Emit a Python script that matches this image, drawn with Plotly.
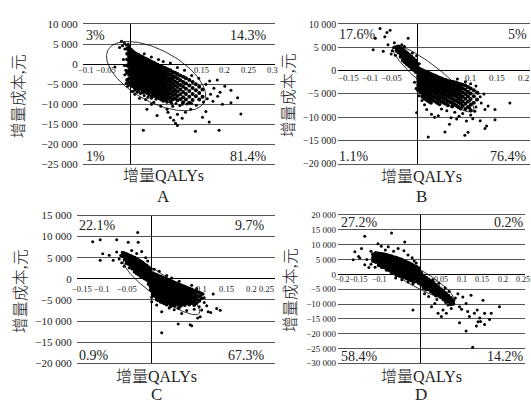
import numpy as np
import plotly.graph_objects as go

W, H = 531, 400
SERIF = "Liberation Serif, Noto Sans CJK SC, serif"

# ------------------------------------------------------------------ data
# Each *_core entry: (incremental QALY, [incremental costs of the points in that column])
A_core = [
    (-0.006, [3900, 2600, 1200, -300, -2100, -3900]),
    (-0.002, [4300, 3300, 2500, 1900, 1000, 300, -600, -1500, -2600, -3600, -4700]),
    (0.002, [3600, 2900, 2200, 1600, 900, 200, -500, -1200, -1900, -2800, -3600, -4500, -5300]),
    (0.006, [3200, 2500, 1900, 1300, 600, -100, -800, -1500, -2300, -3000, -3800, -4700, -5500]),
    (0.010, [2800, 2200, 1500, 900, 300, -400, -1100, -1800, -2500, -3300, -4100, -5000, -5900]),
    (0.014, [2500, 1900, 1300, 700, 0, -700, -1400, -2100, -2900, -3600, -4400, -5300, -6100]),
    (0.018, [2300, 1600, 1000, 400, -300, -1000, -1700, -2400, -3200, -3900, -4800, -5600, -6400]),
    (0.022, [2000, 1400, 800, 100, -600, -1300, -2000, -2700, -3500, -4300, -5100, -6000]),
    (0.026, [1800, 1100, 500, -200, -900, -1600, -2300, -3000, -3800, -4600, -5400, -6300, -7000]),
    (0.030, [1500, 900, 200, -500, -1200, -1900, -2600, -3400, -4100, -4900, -5700, -6600]),
    (0.034, [1300, 600, 0, -700, -1400, -2100, -2900, -3600, -4400, -5200, -6100, -7000]),
    (0.038, [1100, 400, -300, -1000, -1700, -2400, -3100, -3900, -4700, -5500, -6400, -7300]),
    (0.042, [800, 100, -600, -1300, -2000, -2700, -3500, -4300, -5100, -5900, -6800]),
    (0.046, [600, -100, -800, -1500, -2200, -3000, -3800, -4600, -5400, -6300, -7200, -8000]),
    (0.050, [400, -400, -1100, -1800, -2500, -3300, -4100, -4900, -5700, -6600, -7500]),
    (0.054, [100, -600, -1300, -2100, -2800, -3600, -4400, -5200, -6100, -7000, -7800]),
    (0.058, [-100, -900, -1600, -2400, -3100, -3900, -4700, -5600, -6400, -7300, -8200]),
    (0.062, [-400, -1100, -1900, -2600, -3400, -4200, -5000, -5900, -6800, -7700]),
    (0.066, [-600, -1400, -2100, -2900, -3700, -4500, -5400, -6200, -7100, -8000, -8800]),
    (0.070, [-800, -1700, -2400, -3200, -4000, -4900, -5700, -6600, -7500, -8400]),
    (0.075, [-1000, -1900, -2800, -3600, -4500, -5400, -6300, -7200, -8100, -9000]),
    (0.080, [-1300, -2200, -3100, -4000, -4900, -5900, -6800, -7700, -8600]),
    (0.085, [-1500, -2500, -3500, -4400, -5400, -6300, -7300, -8300, -9300]),
    (0.090, [-1900, -2900, -3800, -4800, -5800, -6800, -7800, -8800]),
    (0.095, [-2100, -3200, -4300, -5300, -6400, -7400, -8500]),
    (0.100, [-2400, -3500, -4600, -5700, -6800, -7900, -9000]),
    (0.106, [-2800, -4000, -5200, -6300, -7500, -8700]),
    (0.112, [-3100, -4400, -5600, -6900, -8200, -9500]),
    (0.118, [-3500, -4800, -6100, -7400, -8800]),
    (0.125, [-3900, -5300, -6700, -8100, -9600]),
    (0.132, [-4400, -5900, -7400, -8900]),
    (0.139, [-5000, -6500, -8000]),
    (0.146, [-5600, -7200, -8800]),
    (0.153, [-6300, -8100]),
]
A_scatter = [
    (-0.018, 5780), (-0.012, 5300), (-0.016, 4600), (-0.008, 4800), (-0.011, 3800), (-0.022, 4200),
    (-0.004, 5000), (-0.032, -680), (-0.012, -300), (-0.009, -1500), (-0.011, -2600), (-0.008, -4730),
    (-0.005, -5500), (-0.014, 1200), (0.0355, -11200), (0.057, -12800), (0.092, -14000), (0.096, -14700),
    (0.100, -15300), (0.110, -13500), (0.028, -16450), (0.138, -16700), (0.153, -13200), (0.167, -14400),
    (0.188, -16450), (0.213, -6500), (0.195, -10000), (0.213, -9600), (0.227, -8370), (0.234, -12400),
    (0.184, -3930), (0.177, -6000), (0.170, -7500), (0.163, -8600), (0.155, -9400), (0.128, -11200),
    (0.117, -12000), (0.078, -11200), (0.065, -10500), (0.045, -10000), (0.020, -8500), (0.010, -7500),
    (0.005, -6800), (0.033, -8800), (0.050, -9500), (0.090, -10500), (0.105, -10300), (0.140, -10200),
    (0.160, -5000), (0.168, -4200), (0.175, -9200), (0.185, -8000), (0.190, -7000), (0.200, -5500),
    (0.160, -11800), (0.100, -12500), (0.085, -13300), (0.080, -12000), (0.145, -3500), (0.130, -2800),
    (0.115, -1500), (0.100, -800), (0.085, 300), (0.070, 700), (0.060, 1200), (0.045, 1800), (0.030, 2600),
    (0.010, -6500), (0.015, -7000), (0.022, -7300), (0.030, -7800), (0.038, -8200), (0.045, -8500),
    (0.055, -8700), (0.062, -8600), (0.070, -9200), (0.078, -9500), (0.088, -9700), (0.097, -9800),
    (0.110, -10000), (0.120, -9900), (0.130, -9800), (0.040, -7700), (0.028, -7100), (0.018, -6800),
    (0.052, -8100), (0.068, -8500),
]

B_core = [
    (-0.040, [5000, 4300]),
    (-0.036, [5200, 4600, 3900]),
    (-0.032, [4800, 4200, 3600, 3000]),
    (-0.028, [4600, 4000, 3400, 2800, 2200]),
    (-0.024, [4200, 3600, 3000, 2400, 1800]),
    (-0.020, [3800, 3200, 2600, 2000, 1400]),
    (-0.016, [3400, 2800, 2200, 1600, 1000]),
    (-0.012, [3000, 2400, 1800, 1200, 600]),
    (-0.008, [2600, 2000, 1400, 800, 200]),
    (-0.004, [2200, 1600, 1000, 400, -200]),
    (-0.001, [1500, 900, 300, -300]),
    (0.001, [600, 0, -600, -1200, -1800, -2400, -3000, -3600, -4200]),
    (0.005, [300, -300, -900, -1500, -2100, -2700, -3300, -3900, -4600]),
    (0.009, [100, -500, -1100, -1700, -2300, -2900, -3500, -4200, -4900, -5600]),
    (0.013, [-100, -700, -1300, -1900, -2500, -3100, -3800, -4500, -5200, -6000]),
    (0.017, [-300, -900, -1500, -2100, -2700, -3400, -4100, -4800, -5500, -6300]),
    (0.021, [-500, -1100, -1700, -2300, -2900, -3600, -4300, -5000, -5800, -6600]),
    (0.025, [-700, -1300, -1900, -2500, -3100, -3800, -4500, -5300, -6100, -6900]),
    (0.029, [-900, -1500, -2100, -2700, -3300, -4000, -4700, -5500, -6300]),
    (0.033, [-1100, -1700, -2300, -2900, -3500, -4200, -4900, -5700, -6600]),
    (0.037, [-1300, -1900, -2500, -3100, -3700, -4400, -5200, -6000, -6900]),
    (0.041, [-1500, -2100, -2700, -3300, -4000, -4700, -5500, -6300, -7200]),
    (0.045, [-1700, -2300, -2900, -3500, -4200, -4900, -5700, -6600]),
    (0.049, [-1900, -2500, -3100, -3700, -4400, -5200, -6000, -6900]),
    (0.053, [-2000, -2600, -3200, -3900, -4600, -5400, -6200, -7100]),
    (0.057, [-2200, -2800, -3400, -4100, -4800, -5600, -6500, -7400]),
    (0.061, [-2300, -2900, -3600, -4300, -5000, -5800, -6700]),
    (0.065, [-2400, -3000, -3700, -4400, -5200, -6000, -6900, -7700]),
    (0.069, [-2500, -3200, -3900, -4600, -5400, -6300, -7200]),
    (0.073, [-2600, -3300, -4000, -4800, -5600, -6500, -7500]),
    (0.077, [-2800, -3500, -4200, -5000, -5900, -6800, -7800]),
    (0.081, [-2900, -3600, -4400, -5300, -6200, -7100, -8100]),
    (0.085, [-3000, -3800, -4700, -5600, -6600, -7600]),
    (0.090, [-3200, -4100, -5000, -6000, -7100, -8200]),
    (0.095, [-3500, -4500, -5500, -6600, -7800]),
    (0.100, [-3800, -4900, -6100, -7300, -8500]),
    (0.106, [-4200, -5500, -6900]),
    (0.112, [-4700, -6200]),
]
B_scatter = [
    (-0.071, 9040), (-0.062, 7300), (-0.058, 8200), (-0.052, 8690), (-0.080, 6960), (-0.084, 4520),
    (-0.065, 4170), (-0.018, 6960), (-0.056, 5560), (-0.045, 5000), (-0.048, 4300), (-0.050, 3600),
    (-0.042, 3300), (-0.030, 5600), (-0.025, 5200), (-0.044, 6000), (-0.002, -9020), (0.020, -14230),
    (0.0515, -13190), (0.089, -13875), (0.095, -13200), (0.127, -12400), (0.130, -11900), (0.127, -8330),
    (0.146, -8330), (0.174, -6940), (0.146, -10540), (0.118, -10750), (0.104, -10300), (0.0736, -10400),
    (0.063, -10100), (0.039, -9700), (0.026, -9370), (0.032, -10000), (0.017, -8330), (0.114, -4850),
    (0.120, -6940), (0.110, -7800), (0.108, -8700), (0.100, -9500), (0.085, -9200), (0.070, -8900),
    (0.055, -8600), (0.045, -8200), (0.013, -7300), (0.008, -6400), (0.003, -5400), (-0.003, -3800),
    (-0.006, -2500), (0.100, -2800), (0.090, -2400), (0.075, -1800), (0.110, -3300), (0.118, -5600),
    (0.125, -5000), (0.133, -7600), (0.003, 1500), (-0.002, 3200), (-0.010, 3800), (0.060, -11500),
    (0.078, -9800), (0.092, -10800), (0.098, -8000),
]

C_core = [
    (-0.058, [6200, 5400]),
    (-0.054, [6000, 5300, 4600]),
    (-0.050, [5800, 5100, 4400, 3700]),
    (-0.046, [5600, 4900, 4200, 3500]),
    (-0.042, [5400, 4700, 4000, 3300, 2700]),
    (-0.038, [5200, 4500, 3800, 3100, 2400]),
    (-0.034, [5000, 4300, 3600, 2900, 2200]),
    (-0.030, [4700, 4000, 3300, 2600, 1900, 1300]),
    (-0.026, [4400, 3700, 3000, 2300, 1600, 1000]),
    (-0.022, [4100, 3400, 2700, 2000, 1300, 700]),
    (-0.018, [3800, 3100, 2400, 1700, 1000, 400]),
    (-0.014, [3400, 2700, 2000, 1300, 700, 100]),
    (-0.010, [3100, 2400, 1700, 1000, 400, -200]),
    (-0.006, [2700, 2000, 1300, 700, 100, -500, -1200]),
    (-0.002, [2200, 1500, 900, 300, -300, -1000, -1800, -2600]),
    (0.002, [1300, 700, 100, -500, -1100, -1700, -2400, -3100, -3800]),
    (0.006, [1100, 500, -100, -700, -1300, -1900, -2600, -3300, -4000]),
    (0.010, [900, 300, -300, -900, -1500, -2100, -2800, -3500, -4200, -4900]),
    (0.014, [700, 100, -500, -1100, -1700, -2300, -3000, -3700, -4400, -5100]),
    (0.018, [500, -100, -700, -1300, -1900, -2500, -3200, -3900, -4600, -5400]),
    (0.022, [300, -300, -900, -1500, -2100, -2700, -3400, -4100, -4800, -5600]),
    (0.026, [100, -500, -1100, -1700, -2300, -2900, -3600, -4300, -5000, -5800]),
    (0.030, [-100, -700, -1300, -1900, -2500, -3100, -3800, -4500, -5300, -6100]),
    (0.034, [-300, -900, -1500, -2100, -2700, -3400, -4100, -4800, -5600]),
    (0.038, [-500, -1100, -1700, -2300, -2900, -3600, -4300, -5000, -5800, -6500]),
    (0.042, [-700, -1300, -1900, -2500, -3100, -3800, -4500, -5300, -6100]),
    (0.046, [-900, -1500, -2100, -2700, -3400, -4100, -4800, -5600, -6400]),
    (0.050, [-1100, -1700, -2300, -2900, -3600, -4300, -5100, -5900]),
    (0.054, [-1300, -1900, -2500, -3100, -3800, -4500, -5300, -6100, -6900]),
    (0.058, [-1500, -2100, -2700, -3400, -4100, -4800, -5600, -6400]),
    (0.062, [-1700, -2300, -2900, -3600, -4300, -5100, -5900]),
    (0.066, [-1900, -2500, -3200, -3900, -4600, -5400, -6200]),
    (0.070, [-2100, -2700, -3400, -4100, -4900, -5700]),
    (0.075, [-2300, -3000, -3700, -4500, -5300, -6100]),
    (0.080, [-2500, -3300, -4100, -4900, -5700]),
    (0.085, [-2800, -3600, -4400, -5300, -6200]),
    (0.090, [-3000, -3900, -4800, -5700]),
    (0.095, [-3300, -4200, -5200]),
    (0.100, [-3600, -4600]),
]
C_scatter = [
    (-0.118, 8800), (-0.103, 9260), (-0.070, 9260), (-0.028, 10960), (-0.047, 8660), (-0.027, 8660),
    (-0.098, 5970), (-0.103, 4430), (-0.077, 4430), (-0.070, 6360), (-0.062, 5500), (-0.065, 4700),
    (-0.085, 5600), (-0.060, 3800), (-0.055, 3000), (-0.045, 2600), (-0.035, 1600), (-0.020, 6500),
    (-0.040, 6700), (-0.030, 6000), (-0.012, 5000), (-0.008, 4200), (0.103, -3600), (0.123, -3600),
    (0.137, -7420), (0.113, -7800), (0.097, -8960), (0.092, -9300), (0.060, -8200), (0.053, -10730),
    (0.077, -10870), (0.080, -11100), (0.020, -12800), (0.020, -7810), (0.000, -4370), (0.000, -5400),
    (0.010, -6200), (0.035, -6900), (0.045, -7300), (0.070, -7500), (0.085, -7200), (0.105, -5600),
    (0.110, -6400), (0.118, -8000), (0.130, -7000), (0.095, -6600), (0.100, -7400), (0.065, -2200),
    (0.080, -1500), (0.090, -2300), (0.105, -4500), (0.055, -600), (0.040, 200), (0.030, 800),
    (0.015, 1800), (0.005, 2300),
]

D_core = [
    (-0.115, [6800, 5600, 4500]),
    (-0.108, [7200, 6200, 5200, 4200]),
    (-0.101, [7000, 6000, 5000, 4000, 3100]),
    (-0.094, [6900, 5900, 5000, 4100, 3200, 2500]),
    (-0.088, [6700, 5800, 4900, 4000, 3200, 2400]),
    (-0.082, [6500, 5700, 4800, 4000, 3200, 2400, 1600]),
    (-0.076, [6300, 5500, 4700, 3900, 3100, 2300, 1500]),
    (-0.070, [6100, 5300, 4500, 3800, 3000, 2200, 1400, 700]),
    (-0.064, [5800, 5100, 4300, 3600, 2800, 2100, 1300, 600]),
    (-0.058, [5600, 4900, 4100, 3400, 2700, 1900, 1200, 400, -300]),
    (-0.052, [5300, 4600, 3900, 3200, 2500, 1800, 1000, 300, -400]),
    (-0.046, [5000, 4300, 3600, 2900, 2200, 1500, 800, 100, -600]),
    (-0.040, [4600, 3900, 3200, 2500, 1800, 1100, 400, -300, -1000]),
    (-0.034, [4200, 3500, 2900, 2200, 1500, 800, 100, -600, -1300]),
    (-0.028, [3800, 3100, 2500, 1800, 1100, 400, -300, -1000, -1700]),
    (-0.022, [3400, 2700, 2100, 1400, 700, 0, -700, -1400, -2100]),
    (-0.016, [3000, 2300, 1600, 1000, 300, -400, -1100, -1800, -2500]),
    (-0.010, [2600, 1900, 1200, 500, -200, -900, -1600, -2300]),
    (-0.004, [2100, 1400, 700, 0, -700, -1400, -2100, -2900]),
    (0.002, [500, -300, -1100, -1900, -2700, -3500]),
    (0.008, [-500, -1300, -2100, -2900, -3700, -4500]),
    (0.014, [-1100, -1900, -2700, -3500, -4300, -5100]),
    (0.020, [-1700, -2600, -3400, -4200, -5000]),
    (0.026, [-2300, -3200, -4000, -4900, -5800]),
    (0.032, [-2900, -3800, -4700, -5600, -6400]),
    (0.038, [-3600, -4500, -5400, -6300, -7100]),
    (0.044, [-4300, -5200, -6100, -7000]),
    (0.050, [-5000, -5900, -6800, -7700]),
    (0.056, [-5700, -6600, -7500, -8500]),
    (0.062, [-6400, -7400, -8400, -9300]),
    (0.068, [-7200, -8200, -9200]),
    (0.074, [-8000, -9100, -10100]),
    (0.080, [-8800, -9900]),
]
D_scatter = [
    (-0.159, 7660), (-0.163, 4910), (-0.135, 12900), (-0.143, 8740), (-0.147, 5560), (-0.103, 10380),
    (-0.070, 13980), (-0.038, 10930), (-0.078, 9300), (-0.054, 8740), (-0.040, 8000), (-0.135, 3270),
    (-0.125, 2300), (-0.150, 6000), (-0.130, 5000), (-0.120, 7800), (-0.120, 3400), (-0.110, 2400),
    (-0.095, 9500), (-0.085, 8200), (-0.065, 7800), (-0.030, 6500), (-0.020, 5600), (-0.015, 4500),
    (-0.010, 3800), (-0.060, -1200), (-0.045, -1800), (-0.030, -2600), (-0.018, -3200), (-0.018, -11990),
    (0.043, -13100), (0.063, -13100), (0.055, -12000), (0.051, -14180), (0.067, -10350), (0.095, -10900),
    (0.091, -6550), (0.103, -7630), (0.111, -9820), (0.123, -7070), (0.095, -16370), (0.115, -12540),
    (0.111, -19090), (0.127, -24560), (0.119, -14180), (0.131, -13100), (0.138, -12000), (0.144, -14730),
    (0.146, -15900), (0.156, -13100), (0.152, -8710), (0.136, -17460), (0.156, -16900), (0.140, -16000),
    (0.168, -15260), (0.172, -13100), (0.192, -10900), (0.027, -10900), (0.035, -9800), (0.040, -8500),
    (0.020, -7500), (0.010, -6500), (0.060, -4500), (0.045, -3000), (0.030, -1800), (0.070, -5800),
    (0.085, -8000), (0.075, -11500), (0.100, -11800),
]

# confidence ellipses: centre, end of major semi-axis, end of minor semi-axis (QALY, cost)
A_ellipse = [(0.055, -2960), (0.156, -9610), (0.083, 2573)]
B_ellipse = [(0.0294, -1729), (0.105, -8667), (0.0426, 42)]
C_ellipse = [(0.0199, -1884), (0.095, -8203), (0.0328, 161)]
D_ellipse = [(-0.0159, -540), (0.0792, -8187), (-0.0046, 1997)]

# quadrant percentages: upper-left, upper-right, lower-left, lower-right
A_quad = ["3%", "14.3%", "1%", "81.4%"]
B_quad = ["17.6%", "5%", "1.1%", "76.4%"]
C_quad = ["22.1%", "9.7%", "0.9%", "67.3%"]
D_quad = ["27.2%", "0.2%", "58.4%", "14.2%"]

# tick values
A_yticks = [10000, 5000, 0, -5000, -10000, -15000, -20000, -25000]
B_yticks = [10000, 5000, 0, -5000, -10000, -15000, -20000]
C_yticks = [15000, 10000, 5000, 0, -5000, -10000, -15000, -20000]
D_yticks = [20000, 15000, 10000, 5000, 0, -5000, -10000, -15000, -20000, -25000, -30000]
A_xticks = [-0.1, -0.05, 0.15, 0.2, 0.25, 0.3]
B_xticks = [-0.15, -0.1, -0.05, 0.1, 0.15, 0.2]
C_xticks = [-0.15, -0.1, -0.05, 0.1, 0.15, 0.2, 0.25]
D_xticks = [-0.2, -0.15, -0.1, 0.05, 0.1, 0.15, 0.2, 0.25]

panel_letters = ["A", "B", "C", "D"]
x_title = "增量QALYs"
y_title = "增量成本,元"

# ------------------------------------------------------------------ layout (pixels)
panels = [
    dict(core=A_core, sc=A_scatter, ell=A_ellipse, quad=A_quad, yt=A_yticks, xt=A_xticks,
         px=(82.7, 275), py=(18.8, 163.3), xr=(-0.1, 0.306), yr=(-25000, 10000),
         yfs=11, xfs=8.5, yshift_x=0, shifts=[3], stand=4, qy=(30, 155), ql=85, qr=268,
         xtitle=(163, 175), letter=(163, 196), ytitle=(18, 93)),
    dict(core=B_core, sc=B_scatter, ell=B_ellipse, quad=B_quad, yt=B_yticks, xt=B_xticks,
         px=(338.2, 530), py=(18.7, 162.7), xr=(-0.15, 0.212), yr=(-20000, 10000),
         yfs=10, xfs=9, yshift_x=-1, shifts=[10, 5], stand=1, qy=(29.5, 155), ql=338, qr=528,
         xtitle=(421, 176), letter=(421, 196), ytitle=(288, 92)),
    dict(core=C_core, sc=C_scatter, ell=C_ellipse, quad=C_quad, yt=C_yticks, xt=C_xticks,
         px=(76.7, 275), py=(216, 368.3), xr=(-0.15, 0.2466), yr=(-20000, 15000),
         yfs=11, xfs=8.5, yshift_x=-4, shifts=[5], stand=4, qy=(226, 360), ql=78, qr=266,
         xtitle=(156, 382), letter=(156, 400), ytitle=(20, 294)),
    dict(core=D_core, sc=D_scatter, ell=D_ellipse, quad=D_quad, yt=D_yticks, xt=D_xticks,
         px=(338, 525), py=(215.6, 368.3), xr=(-0.2, 0.254), yr=(-30000, 20000),
         yfs=9, xfs=8, yshift_x=0, shifts=[4], stand=1, qy=(223.5, 361.5), ql=340, qr=525,
         xtitle=(421, 382), letter=(421, 400), ytitle=(290, 293)),
]


def fmt_cost(v):
    s = f"{abs(v):,}".replace(",", " ")
    return ("−" if v < 0 else "") + s


def fmt_q(v):
    s = f"{abs(v):g}"
    return ("−" if v < 0 else "") + s


fig = go.Figure()
annotations = []
t = np.linspace(0, 2 * np.pi, 181)
TXT = "#222222"

for i, p in enumerate(panels):
    sfx = "" if i == 0 else str(i + 1)
    xa, ya = "x" + sfx, "y" + sfx
    cx_, cy_ = [], []
    for xv, col in p["core"]:
        for yv in col:
            cx_.append(xv)
            cy_.append(yv)
    fig.add_trace(go.Scatter(x=cx_, y=cy_, mode="markers", xaxis=xa, yaxis=ya,
                             marker=dict(size=4, color="black", line=dict(width=0)),
                             showlegend=False, hoverinfo="skip"))
    fig.add_trace(go.Scatter(x=[v[0] for v in p["sc"]], y=[v[1] for v in p["sc"]],
                             mode="markers", xaxis=xa, yaxis=ya,
                             marker=dict(size=3, color="black", line=dict(width=0)),
                             showlegend=False, hoverinfo="skip"))
    (cx, cy), (mx, my), (nx, ny) = p["ell"]
    ex = cx + np.cos(t) * (mx - cx) + np.sin(t) * (nx - cx)
    ey = cy + np.cos(t) * (my - cy) + np.sin(t) * (ny - cy)
    fig.add_trace(go.Scatter(x=ex, y=ey, mode="lines", xaxis=xa, yaxis=ya,
                             line=dict(color="black", width=0.8),
                             showlegend=False, hoverinfo="skip"))

    l, r = p["px"]
    top, bot = p["py"]
    fig.layout["xaxis" + sfx] = dict(
        domain=[l / W, r / W], range=list(p["xr"]), anchor=ya,
        showgrid=False, showticklabels=False, ticks="",
        zeroline=True, zerolinecolor="black", zerolinewidth=1,
        showline=True, mirror=True, linecolor="#555555", linewidth=1,
        fixedrange=True)
    fig.layout["yaxis" + sfx] = dict(
        domain=[1 - bot / H, 1 - top / H], range=list(p["yr"]), anchor=xa,
        tickmode="array", tickvals=p["yt"], ticktext=[fmt_cost(v) for v in p["yt"]],
        tickfont=dict(family=SERIF, size=p["yfs"], color=TXT),
        ticks="", ticklabelstandoff=p["stand"],
        showgrid=True, gridcolor="#555555", gridwidth=1,
        zeroline=True, zerolinecolor="black", zerolinewidth=1.2,
        showline=False, fixedrange=True)

    # x tick labels sitting under the zero line
    for k, v in enumerate(p["xt"]):
        last = abs(v - p["xr"][1]) < 0.01 and i == 2
        annotations.append(dict(
            x=p["xr"][1] if last else v, y=0, xref=xa, yref=ya, text=fmt_q(v),
            showarrow=False, xanchor="right" if last else "center", yanchor="top",
            yshift=p["yshift_x"], xshift=p["shifts"][k] if k < len(p["shifts"]) else 0,
            borderpad=0, font=dict(family=SERIF, size=p["xfs"], color=TXT)))

    # quadrant percentages
    q = p["quad"]
    qy1, qy2 = p["qy"]
    for txt, xpx, ypx, anc in [(q[0], p["ql"], qy1, "left"), (q[1], p["qr"], qy1, "right"),
                               (q[2], p["ql"], qy2, "left"), (q[3], p["qr"], qy2, "right")]:
        annotations.append(dict(
            x=xpx / W, y=1 - ypx / H, xref="paper", yref="paper", text=txt,
            showarrow=False, xanchor=anc, yanchor="middle", borderpad=0,
            font=dict(family=SERIF, size=14, color=TXT)))

    # titles
    annotations.append(dict(
        x=p["xtitle"][0] / W, y=1 - p["xtitle"][1] / H, xref="paper", yref="paper",
        text=x_title, showarrow=False, xanchor="center", yanchor="middle",
        font=dict(family=SERIF, size=16, color=TXT, weight=300)))
    annotations.append(dict(
        x=p["letter"][0] / W, y=1 - p["letter"][1] / H, xref="paper", yref="paper",
        text=panel_letters[i], showarrow=False, xanchor="center", yanchor="middle",
        font=dict(family=SERIF, size=17, color=TXT)))
    annotations.append(dict(
        x=p["ytitle"][0] / W, y=1 - p["ytitle"][1] / H, xref="paper", yref="paper",
        text=y_title, showarrow=False, textangle=-90, xanchor="center", yanchor="middle",
        font=dict(family=SERIF, size=16, color=TXT, weight=300)))

fig.update_layout(
    width=W, height=H, autosize=False,
    margin=dict(l=0, r=0, t=0, b=0),
    paper_bgcolor="white", plot_bgcolor="white",
    annotations=annotations,
)

fig.write_html("out.html", config={"displayModeBar": False, "staticPlot": True},
               post_script="document.body.style.margin='0';document.body.style.overflow='hidden';")
